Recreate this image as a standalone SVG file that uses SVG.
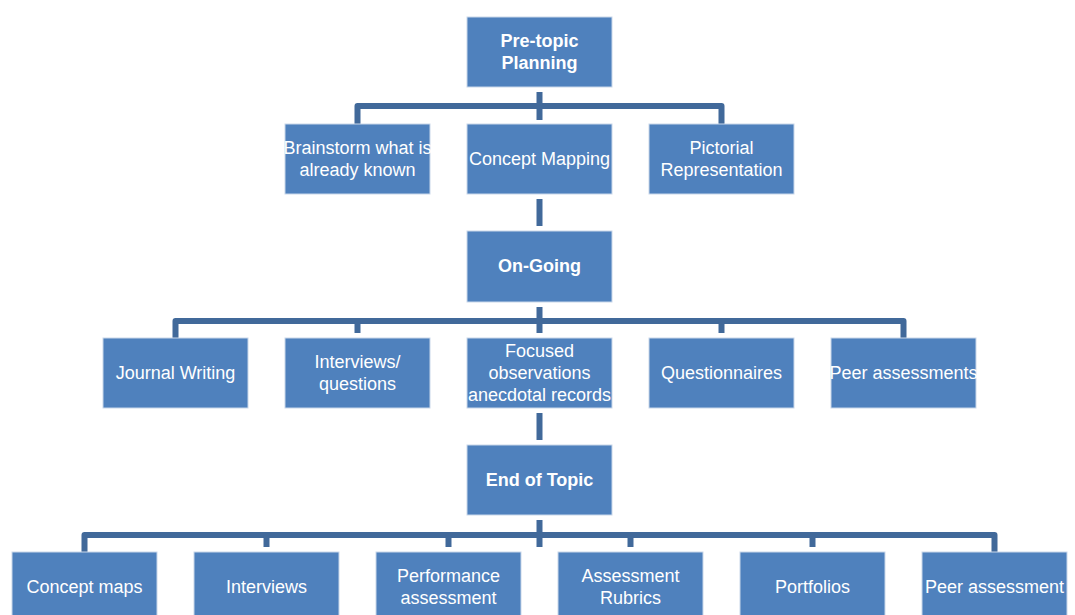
<svg xmlns="http://www.w3.org/2000/svg" width="1075" height="615" viewBox="0 0 1075 615">
<style>
.box{fill:#4f81bd;stroke:#c9d7ea;stroke-width:1}
.t{font-family:"Liberation Sans",Arial,sans-serif;font-size:18px;fill:#ffffff;text-anchor:middle}
.b{font-weight:bold}
.c{fill:none;stroke:#41699a;stroke-width:6;stroke-linejoin:round;stroke-linecap:butt}
</style>
<rect width="1075" height="615" fill="#ffffff"/>
<g id="connectors">
<path class="c" d="M539.5,92 V120"/>
<path class="c" d="M357.5,124 V106 H721.5 V124"/>
<path class="c" d="M539.5,199 V226"/>
<path class="c" d="M539.5,307 V333"/>
<path class="c" d="M175.5,338 V321 H903.5 V338"/>
<path class="c" d="M357.5,321 V333"/>
<path class="c" d="M721.5,321 V333"/>
<path class="c" d="M539.5,413 V440"/>
<path class="c" d="M539.5,520 V547"/>
<path class="c" d="M84.5,552 V535 H994.5 V552"/>
<path class="c" d="M266.5,535 V547"/>
<path class="c" d="M448.5,535 V547"/>
<path class="c" d="M630.5,535 V547"/>
<path class="c" d="M812.5,535 V547"/>
</g>
<g id="pre-topic"><rect class="box" x="467" y="17" width="145" height="70"/><text class="t b" x="539.5" y="47">Pre-topic</text><text class="t b" x="539.5" y="69">Planning</text></g>
<g id="brainstorm"><rect class="box" x="285" y="124" width="145" height="70"/><text class="t" x="357.5" y="154">Brainstorm what is</text><text class="t" x="357.5" y="176">already known</text></g>
<g id="concept-mapping"><rect class="box" x="467" y="124" width="145" height="70"/><text class="t" x="539.5" y="165">Concept Mapping</text></g>
<g id="pictorial"><rect class="box" x="649" y="124" width="145" height="70"/><text class="t" x="721.5" y="154">Pictorial</text><text class="t" x="721.5" y="176">Representation</text></g>
<g id="on-going"><rect class="box" x="467" y="231" width="145" height="71"/><text class="t b" x="539.5" y="272">On-Going</text></g>
<g id="journal"><rect class="box" x="103" y="338" width="145" height="70"/><text class="t" x="175.5" y="379">Journal Writing</text></g>
<g id="interviews-questions"><rect class="box" x="285" y="338" width="145" height="70"/><text class="t" x="357.5" y="368">Interviews/</text><text class="t" x="357.5" y="390">questions</text></g>
<g id="focused"><rect class="box" x="467" y="338" width="145" height="70"/><text class="t" x="539.5" y="357">Focused</text><text class="t" x="539.5" y="379">observations</text><text class="t" x="539.5" y="401">anecdotal records</text></g>
<g id="questionnaires"><rect class="box" x="649" y="338" width="145" height="70"/><text class="t" x="721.5" y="379">Questionnaires</text></g>
<g id="peer-assessments"><rect class="box" x="831" y="338" width="145" height="70"/><text class="t" x="903.5" y="379">Peer assessments</text></g>
<g id="end-of-topic"><rect class="box" x="467" y="445" width="145" height="70"/><text class="t b" x="539.5" y="486">End of Topic</text></g>
<g id="concept-maps"><rect class="box" x="12" y="552" width="145" height="70"/><text class="t" x="84.5" y="593">Concept maps</text></g>
<g id="interviews"><rect class="box" x="194" y="552" width="145" height="70"/><text class="t" x="266.5" y="593">Interviews</text></g>
<g id="performance"><rect class="box" x="376" y="552" width="145" height="70"/><text class="t" x="448.5" y="582">Performance</text><text class="t" x="448.5" y="604">assessment</text></g>
<g id="rubrics"><rect class="box" x="558" y="552" width="145" height="70"/><text class="t" x="630.5" y="582">Assessment</text><text class="t" x="630.5" y="604">Rubrics</text></g>
<g id="portfolios"><rect class="box" x="740" y="552" width="145" height="70"/><text class="t" x="812.5" y="593">Portfolios</text></g>
<g id="peer-assessment"><rect class="box" x="922" y="552" width="145" height="70"/><text class="t" x="994.5" y="593">Peer assessment</text></g>
</svg>
